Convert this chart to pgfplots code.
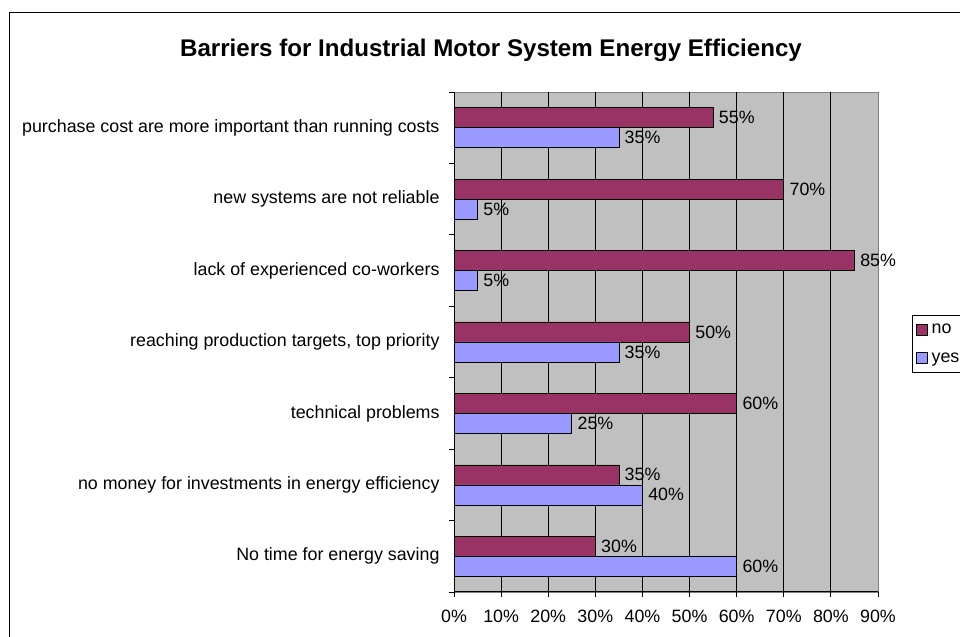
\documentclass[border=0pt]{standalone}
\usepackage{pgfplots}
\pgfplotsset{compat=1.18}
\usepackage{fontspec}
\setmainfont{Liberation Sans}
\definecolor{barno}{HTML}{993366}
\definecolor{baryes}{HTML}{9999FF}
\definecolor{bggray}{HTML}{C0C0C0}
\definecolor{bordergray}{HTML}{808080}
\begin{document}
\begin{tikzpicture}[x=1bp,y=1bp]
\clip (0,0) rectangle (960,637);
\path[use as bounding box] (0,0) rectangle (960,637);
\fill[white] (0,0) rectangle (960,637);
\draw[line width=1bp,black] (9,-20) rectangle (990,624);
\node[font=\bfseries\fontsize{24.2}{28}\selectfont, anchor=base] at (491,580) {Barriers for Industrial Motor System Energy Efficiency};
\begin{axis}[
  at={(454bp,45bp)}, anchor=south west,
  scale only axis, width=424bp, height=500bp,
  xbar, xmin=0, xmax=90, ymin=-0.5, ymax=6.5,
  /pgf/number format/assume math mode=true,
  font=\fontsize{17.9}{21}\selectfont,
  axis background/.style={fill=bggray, draw=bordergray, line width=0.8bp},
  axis x line*=bottom, axis y line*=left,
  axis line style={black,-,line width=1bp},
  xtick={0,10,...,90},
  xticklabel={\pgfmathprintnumber{\tick}\%},
  x tick label style={yshift=-10bp},
  tick align=outside,
  major tick length=5bp,
  tick style={black, line width=0.8bp},
  extra x ticks={10,20,...,80},
  extra x tick labels={},
  extra x tick style={grid=major, major tick length=0pt},
  grid style={black, line width=0.8bp},
  ytick={0,...,6},
  yticklabels={No time for energy saving,
               no money for investments in energy efficiency,
               technical problems,
               {reaching production targets, top priority},
               lack of experienced co-workers,
               new systems are not reliable,
               purchase cost are more important than running costs},
  ytick style={draw=none},
  y tick label style={xshift=-6bp},
  extra y ticks={-0.5,0.5,...,6.5},
  extra y tick labels={},
  extra y tick style={ytick style={draw=black}},
  bar width=20bp,
  point meta=x,
  nodes near coords={\pgfmathprintnumber{\pgfplotspointmeta}\%},
  nodes near coords style={font=\fontsize{17.9}{21}\selectfont, black, anchor=west, inner sep=2bp, xshift=3.5bp},
  legend style={at={(1.08,0.554)}, anchor=north west, draw=black, line width=0.8bp,
     font=\fontsize{17.9}{21}\selectfont, row sep=15bp, inner xsep=4bp, inner ysep=8bp,
     nodes={inner sep=1bp}},
  legend cell align=left,
  legend image code/.code={\path[draw=none,fill=none] (0bp,0bp) -- (14bp,0bp);
     \draw[#1, draw=black, line width=0.6bp] (0bp,-5.5bp) rectangle (11bp,5.5bp);},
]
\addplot[fill=barno, draw=black, line width=0.7bp, bar shift=10bp] coordinates {
  (30,0) (35,1) (60,2) (50,3) (85,4) (70,5) (55,6)};
\addplot[fill=baryes, draw=black, line width=0.7bp, bar shift=-10bp] coordinates {
  (60,0) (40,1) (25,2) (35,3) (5,4) (5,5) (35,6)};
\legend{no, yes}
\end{axis}
\end{tikzpicture}
\end{document}
